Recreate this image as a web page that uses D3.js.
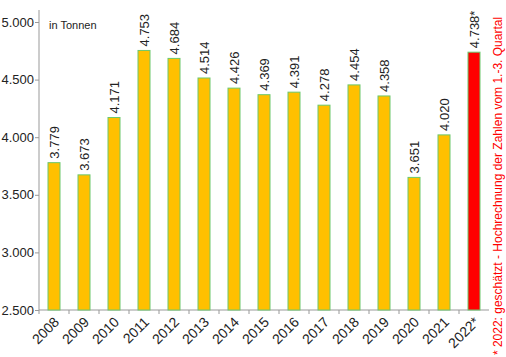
<!DOCTYPE html>
<html><head><meta charset="utf-8">
<script src="https://cdn.jsdelivr.net/npm/d3@7"></script>
<style>body{margin:0;background:#fff;font-family:Arial,"Liberation Sans",sans-serif}</style>
</head><body><svg id="c" width="506" height="357"></svg>
<script>
const categories = ["2008","2009","2010","2011","2012","2013","2014","2015","2016","2017","2018","2019","2020","2021","2022*"];
const values = [3779,3673,4171,4753,4684,4514,4426,4369,4391,4278,4454,4358,3651,4020,4738];
const valueLabels = ["3.779","3.673","4.171","4.753","4.684","4.514","4.426","4.369","4.391","4.278","4.454","4.358","3.651","4.020","4.738*"];
const yTicks = [2500,3000,3500,4000,4500,5000];
const unitLabel = "in Tonnen";
const note = "* 2022: geschätzt - Hochrechnung  der Zahlen vom 1.-3. Quartal";

const svg = d3.select("#c");
const mL = 39, mR = 489, mT = 22, mB = 310;
const x = d3.scaleBand().domain(categories).range([mL, mR]).paddingInner(0.6).paddingOuter(0.3);
const y = d3.scaleLinear().domain([2500, 5000]).range([mB, mT]);
const fmt = d => d3.format(",")(d).replace(/,/g, ".");

// y axis
const ya = svg.append("g").attr("transform", `translate(${mL},0)`)
  .call(d3.axisLeft(y).tickValues(yTicks).tickFormat(fmt).tickSize(4).tickSizeOuter(0));
ya.select(".domain").remove();
svg.append("line").attr("x1", mL).attr("x2", mL).attr("y1", 10).attr("y2", mB).attr("stroke", "#999");
ya.selectAll(".tick line").attr("stroke", "#999");
ya.selectAll(".tick text").attr("font-size", 13).attr("fill", "#222").attr("font-family", "Arial, 'Liberation Sans', sans-serif").attr("x", -5);

// x axis
const step = x.step();
const gap = (step - x.bandwidth()) / 2;
svg.append("line").attr("x1", mL).attr("x2", mR).attr("y1", mB).attr("y2", mB).attr("stroke", "#999");
svg.selectAll(".xt").data(categories).join("line")
  .attr("x1", d => x(d) - gap).attr("x2", d => x(d) - gap)
  .attr("y1", mB).attr("y2", mB + 4).attr("stroke", "#999");
svg.selectAll(".xl").data(categories).join("text")
  .attr("transform", d => `translate(${x(d) + x.bandwidth() / 2 + 6},${mB + 13}) rotate(-45)`)
  .attr("text-anchor", "end").attr("font-size", 14).attr("fill", "#222").text(d => d);

// bars
svg.selectAll(".bar").data(values).join("rect")
  .attr("x", (d, i) => x(categories[i]))
  .attr("y", d => y(d))
  .attr("width", x.bandwidth())
  .attr("height", d => mB - y(d))
  .attr("fill", (d, i) => i === values.length - 1 ? "#FF0000" : "#FFC000")
  .attr("stroke", "#6CC86C").attr("stroke-width", 1);

// value labels
svg.selectAll(".vl").data(values).join("text")
  .attr("transform", (d, i) => `translate(${x(categories[i]) + x.bandwidth() / 2 + 5},${y(d) - 4}) rotate(-90)`)
  .attr("font-size", 13).attr("fill", "#222").text((d, i) => valueLabels[i]);

svg.append("text").attr("x", 49).attr("y", 29).attr("font-size", 11).attr("fill", "#222").text(unitLabel);

svg.append("text").attr("transform", "translate(502,186) rotate(-90)")
  .attr("text-anchor", "middle").attr("font-size", 12).attr("fill", "#FF0000").text(note);
</script></body></html>
